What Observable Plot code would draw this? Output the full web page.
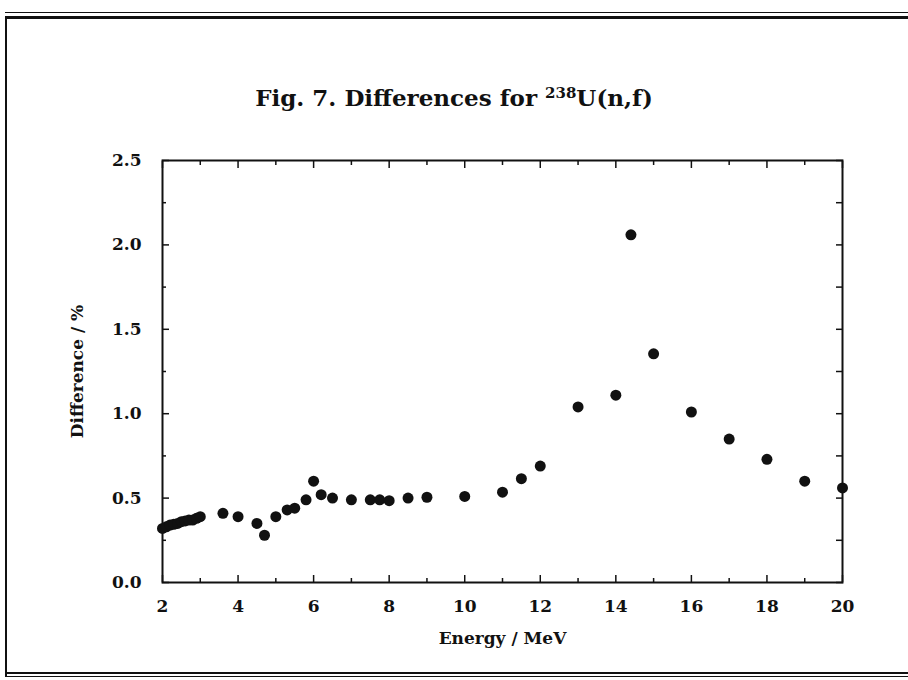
<!DOCTYPE html>
<html>
<head>
<meta charset="utf-8">
<script src="https://cdn.jsdelivr.net/npm/d3@7"></script>
<script src="https://cdn.jsdelivr.net/npm/@observablehq/plot@0.6"></script>
<style>
  html, body { margin: 0; padding: 0; background: #fff; }
  #wrap { position: relative; width: 908px; height: 680px; overflow: hidden; font-family: "DejaVu Serif", "Liberation Serif", serif; }
  #title { position: absolute; left: 0; width: 908px; top: 84px; text-align: center; font-size: 23px; font-weight: bold; color: #111; letter-spacing: 0px; }
  #title sup { font-size: 15px; vertical-align: 8px; line-height: 0; }
  .rule { position: absolute; background: #111; }
  #chart { position: absolute; left: 0; top: 0; }
</style>
</head>
<body>
<div id="wrap">
  <div class="rule" style="left:5px; top:12px; width:903px; height:1px;"></div>
  <div class="rule" style="left:5px; top:16px; width:903px; height:3px;"></div>
  <div class="rule" style="left:5px; top:17px; width:2px; height:660px;"></div>
  <div class="rule" style="left:5px; top:672px; width:903px; height:2px;"></div>
  <div class="rule" style="left:5px; top:676px; width:903px; height:1px;"></div>
  <div id="title">Fig. 7. Differences for <sup>238</sup>U(n,f)</div>
  <div id="chart"></div>
</div>
<script>
// Data
const energy = [2.0, 2.1, 2.2, 2.3, 2.4, 2.5, 2.6, 2.7, 2.8, 2.9, 3.0,
                3.6, 4.0, 4.5, 4.7, 5.0, 5.3, 5.5, 5.8, 6.0, 6.2, 6.5,
                7.0, 7.5, 7.75, 8.0, 8.5, 9.0, 10.0, 11.0, 11.5, 12.0,
                13.0, 14.0, 14.4, 15.0, 16.0, 17.0, 18.0, 19.0, 20.0];
const difference = [0.32, 0.33, 0.34, 0.345, 0.35, 0.36, 0.365, 0.37, 0.37, 0.38, 0.39,
                    0.41, 0.39, 0.35, 0.28, 0.39, 0.43, 0.44, 0.49, 0.60, 0.52, 0.50,
                    0.49, 0.49, 0.49, 0.485, 0.50, 0.505, 0.51, 0.535, 0.615, 0.69,
                    1.04, 1.11, 2.06, 1.355, 1.01, 0.85, 0.73, 0.60, 0.56];

const xMajor = [2, 4, 6, 8, 10, 12, 14, 16, 18, 20];
const xMinor = [3, 5, 7, 9, 11, 13, 15, 17, 19];
const yMajor = [0, 0.5, 1.0, 1.5, 2.0, 2.5];
const yMinor = [0.25, 0.75, 1.25, 1.75, 2.25];
const yTickLabels = ["0.0", "0.5", "1.0", "1.5", "2.0", "2.5"];

const points = energy.map((e, i) => ({energy: e, difference: difference[i]}));

const chart = Plot.plot({
  width: 908,
  height: 680,
  marginLeft: 162,
  marginRight: 66,
  marginTop: 160,
  marginBottom: 98,
  style: {fontFamily: "'DejaVu Serif', serif", fontSize: "17px", fontWeight: "bold", color: "#111", background: "transparent"},
  x: {domain: [2, 20]},
  y: {domain: [0, 2.5]},
  marks: [
    Plot.frame({stroke: "#111", strokeWidth: 2}),
    // bottom axis
    Plot.axisX(xMajor, {anchor: "bottom", tickSize: -7, tickPadding: 24, strokeWidth: 1.5,
      label: "Energy / MeV", labelAnchor: "center", labelOffset: 61, labelArrow: "none"}),
    Plot.axisX(xMinor, {anchor: "bottom", tickSize: -4, text: null, label: null, strokeWidth: 1.5}),
    // top axis ticks
    Plot.axisX(xMajor, {anchor: "top", tickSize: -7, text: null, label: null, strokeWidth: 1.5}),
    Plot.axisX(xMinor, {anchor: "top", tickSize: -4, text: null, label: null, strokeWidth: 1.5}),
    // left axis
    Plot.axisY(yMajor, {anchor: "left", tickSize: -7, tickPadding: 28, strokeWidth: 1.5,
      tickFormat: (d) => yTickLabels[yMajor.indexOf(d)],
      label: "Difference / %", labelAnchor: "center", labelOffset: 92, labelArrow: "none"}),
    Plot.axisY(yMinor, {anchor: "left", tickSize: -4, text: null, label: null, strokeWidth: 1.5}),
    // right axis ticks
    Plot.axisY(yMajor, {anchor: "right", tickSize: -7, text: null, label: null, strokeWidth: 1.5}),
    Plot.axisY(yMinor, {anchor: "right", tickSize: -7, text: null, label: null, strokeWidth: 1.5}),
    Plot.dot(points, {x: "energy", y: "difference", r: 5.5, fill: "#111", stroke: "none"})
  ]
});
document.getElementById("chart").appendChild(chart);
</script>
</body>
</html>
